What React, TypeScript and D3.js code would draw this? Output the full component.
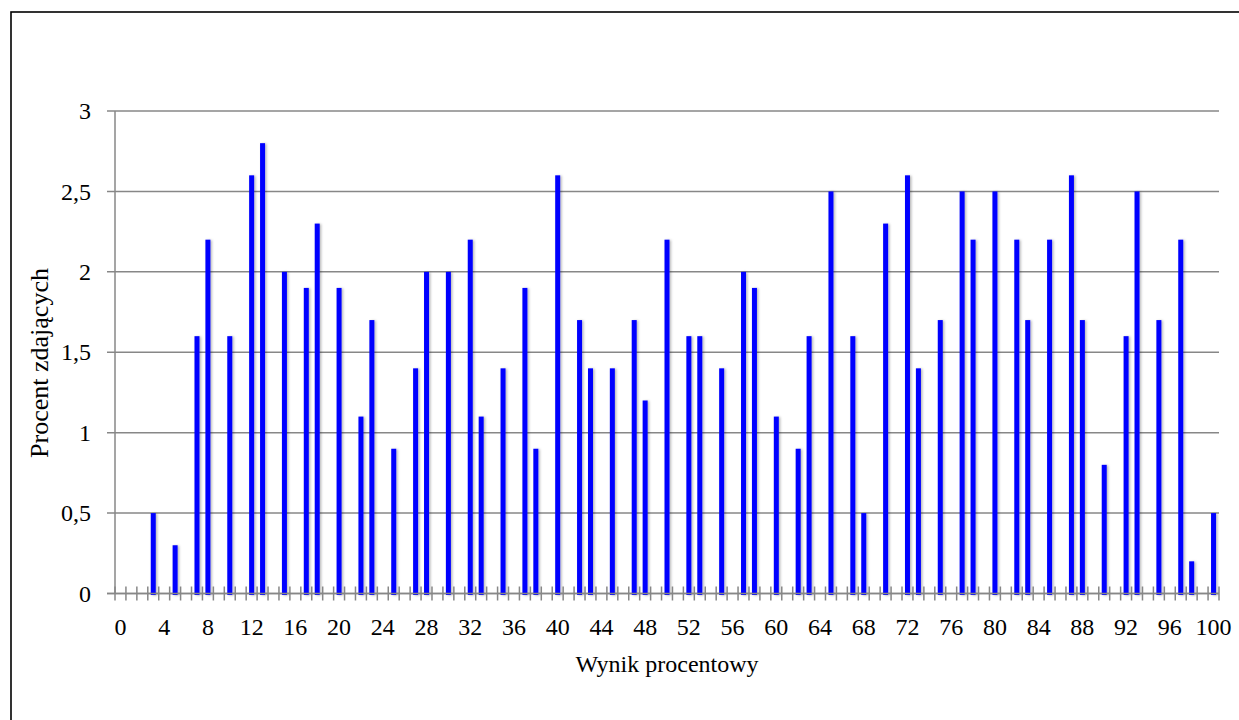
import React from "react";
import * as d3 from "d3";

const scores: number[] = d3.range(0, 101);
// percent of passing students per score (0..100)
const percents: number[] = [
  0, 0, 0, 0.5, 0, 0.3, 0, 1.6, 2.2, 0,
  1.6, 0, 2.6, 2.8, 0, 2.0, 0, 1.9, 2.3, 0,
  1.9, 0, 1.1, 1.7, 0, 0.9, 0, 1.4, 2.0, 0,
  2.0, 0, 2.2, 1.1, 0, 1.4, 0, 1.9, 0.9, 0,
  2.6, 0, 1.7, 1.4, 0, 1.4, 0, 1.7, 1.2, 0,
  2.2, 0, 1.6, 1.6, 0, 1.4, 0, 2.0, 1.9, 0,
  1.1, 0, 0.9, 1.6, 0, 2.5, 0, 1.6, 0.5, 0,
  2.3, 0, 2.6, 1.4, 0, 1.7, 0, 2.5, 2.2, 0,
  2.5, 0, 2.2, 1.7, 0, 2.2, 0, 2.6, 1.7, 0,
  0.8, 0, 1.6, 2.5, 0, 1.7, 0, 2.2, 0.2, 0,
  0.5,
];
const yTicks: number[] = [0, 0.5, 1, 1.5, 2, 2.5, 3];
const xLabelStep = 4;
const yTitle = "Procent zdających";
const xTitle = "Wynik procentowy";

const W = 1239;
const H = 720;
const left = 115;
const right = 1219;
const top = 111;
const bottom = 593.5;

export default function App() {
  const x = d3.scaleBand<number>().domain(scores).range([left, right]).padding(0);
  const y = d3.scaleLinear().domain([0, 3]).range([bottom, top]);
  const fmt = (v: number) => String(v).replace(".", ",");
  const grid = "#878787";
  const font = "'Liberation Serif', 'Times New Roman', serif";
  const bw = x.bandwidth();
  const barW = 5;
  const boundaries = d3.range(0, scores.length + 1).map((i) => left + i * bw);

  return (
    <svg
      width={W}
      height={H}
      style={{ position: "absolute", left: 0, top: 0, background: "#fff" }}
    >
      <defs>
        <filter id="sh" x="-100%" y="-5%" width="300%" height="110%">
          <feDropShadow dx="1.5" dy="0.5" stdDeviation="1.2" floodColor="#000" floodOpacity="0.28" />
        </filter>
      </defs>
      <rect x={0} y={0} width={W} height={H} fill="#fff" />
      <rect x={11} y={12} width={1232} height={H + 20} fill="none" stroke="#000" strokeWidth={1.6} />

      {/* gridlines + y ticks */}
      {yTicks.map((t) => (
        <line key={"g" + t} x1={107} x2={right} y1={y(t)} y2={y(t)} stroke={grid} strokeWidth={1.5} />
      ))}
      {/* y axis */}
      <line x1={left} x2={left} y1={top} y2={bottom} stroke={grid} strokeWidth={1.5} />

      {/* bars */}
      {scores.map((s, i) =>
        percents[i] > 0 ? (
          <rect
            key={"b" + s}
            x={(x(s) as number) + bw / 2 - barW / 2}
            y={y(percents[i])}
            width={barW}
            height={bottom + 1.5 - y(percents[i])}
            fill="#0000FF"
            filter="url(#sh)"
          />
        ) : null
      )}

      {/* x axis ticks */}
      {boundaries.map((bx, i) => (
        <line key={"t" + i} x1={bx} x2={bx} y1={bottom - 7} y2={bottom + 7} stroke={grid} strokeWidth={1.5} />
      ))}
      <line x1={107} x2={right} y1={bottom} y2={bottom} stroke={grid} strokeWidth={1.5} />

      {/* y labels */}
      {yTicks.map((t) => (
        <text
          key={"yl" + t}
          x={91}
          y={y(t)}
          dy="0.34em"
          textAnchor="end"
          fontFamily={font}
          fontSize={24}
          fill="#000"
        >
          {fmt(t)}
        </text>
      ))}

      {/* x labels */}
      {scores
        .filter((s) => s % xLabelStep === 0)
        .map((s) => (
          <text
            key={"xl" + s}
            x={(x(s) as number) + bw / 2}
            y={635}
            textAnchor="middle"
            fontFamily={font}
            fontSize={24}
            fill="#000"
          >
            {s}
          </text>
        ))}

      <text
        transform={`translate(48,363) rotate(-90)`}
        textAnchor="middle"
        fontFamily={font}
        fontSize={26}
        fill="#000"
      >
        {yTitle}
      </text>
      <text x={(left + right) / 2} y={672} textAnchor="middle" fontFamily={font} fontSize={24} fill="#000">
        {xTitle}
      </text>
    </svg>
  );
}
